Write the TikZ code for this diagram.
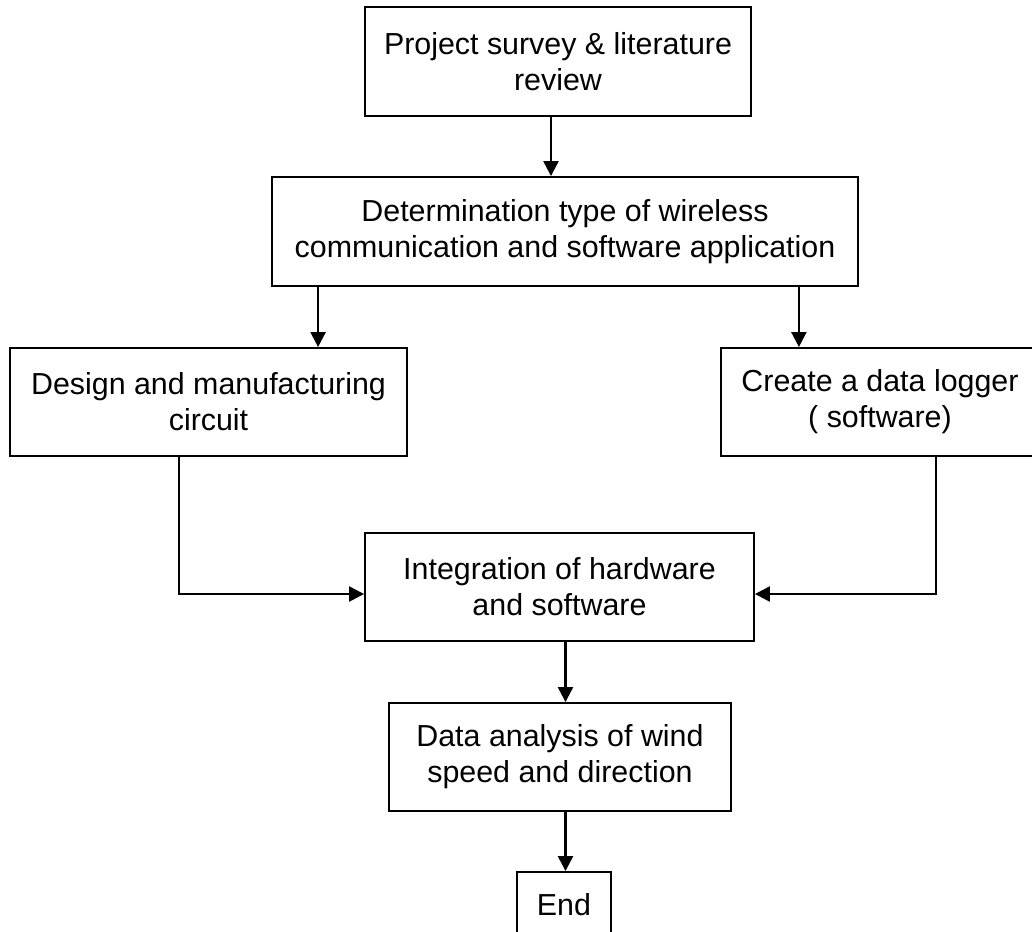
\documentclass[tikz,border=0pt]{standalone}
\usepackage{fontspec}
\setmainfont{Liberation Sans}
\usetikzlibrary{arrows.meta, positioning}

\begin{document}
\begin{tikzpicture}[x=0.02cm, y=-0.02cm,
    stage/.style={draw, line width=1.1pt, align=center, inner sep=0pt,
      font=\fontsize{17.3}{20.6}\selectfont},
    arr/.style={-{Triangle[length=0.3cm, width=0.3cm]}, line width=1.3pt}]
  \useasboundingbox (0,0) rectangle (1032,931);
  \clip (0,0) rectangle (1032,931);
  % etapes
  \node[stage, minimum width=7.72cm, minimum height=2.18cm] (survey) at (558,61.5) {Project survey \& literature\\review};
  \node[stage, minimum width=11.72cm, minimum height=2.18cm] (choice) at (565,231.5) {Determination type of wireless\\communication and software application};
  \node[stage, minimum width=7.94cm, minimum height=2.16cm] (design) at (208.5,402) {Design and manufacturing\\circuit};
  \node[stage, minimum width=6.36cm, minimum height=2.16cm] (logger) at (880,402) {Create a data logger\\( software)};
  \node[stage, minimum width=7.78cm, minimum height=2.16cm] (integ) at (559.5,587) {Integration of hardware\\and software};
  \node[stage, minimum width=6.84cm, minimum height=2.16cm] (analysis) at (560,757) {Data analysis of wind\\speed and direction};
  \node[stage, minimum width=1.88cm, minimum height=1.32cm] (end) at (564,905) {End};
  % liaisons
  \coordinate (c0) at ([xshift=-0.14cm]survey.south);
  \coordinate (c1) at ([xshift=0.94cm]choice.south west);
  \coordinate (c2) at ([xshift=-1.2cm]choice.south east);
  \coordinate (c3) at ([xshift=0.12cm]integ.south);
  \draw[arr] (c0) -- (c0 |- choice.north);
  \draw[arr] (c1) -- (c1 |- design.north);
  \draw[arr] (c2) -- (c2 |- logger.north);
  \draw[arr] ([xshift=3.4cm]design.south west) |- ([yshift=-0.14cm]integ.west);
  \draw[arr] ([xshift=4.32cm]logger.south west) |- ([yshift=-0.14cm]integ.east);
  \draw[arr] (c3) -- (c3 |- analysis.north);
  \draw[arr] (c3 |- analysis.south) -- (c3 |- end.north);
\end{tikzpicture}
\end{document}
